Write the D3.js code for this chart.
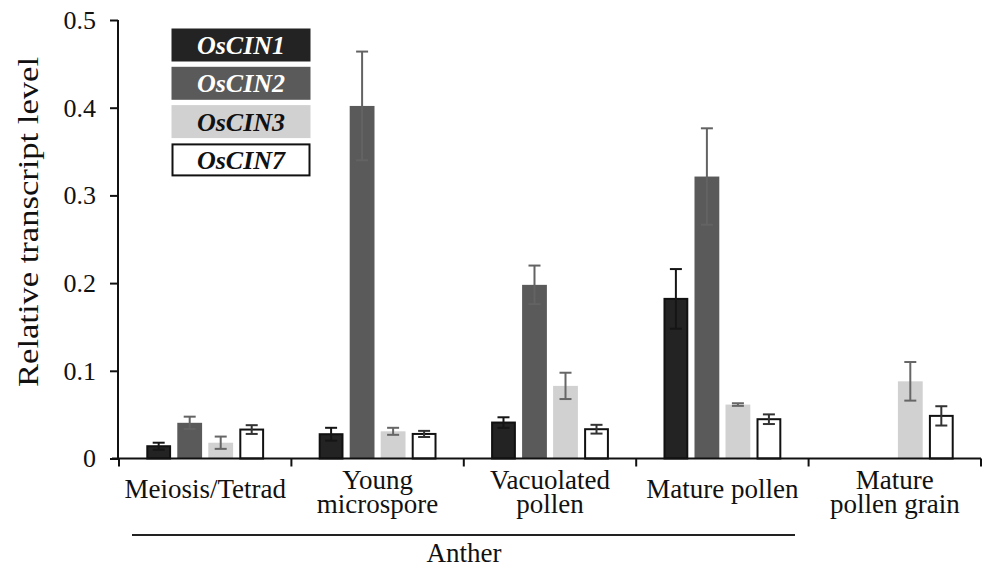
<!DOCTYPE html>
<html><head><meta charset="utf-8">
<script src="https://cdn.jsdelivr.net/npm/d3@7"></script>
<style>
html,body{margin:0;padding:0;background:#fff;}
svg{display:block;}
</style></head>
<body>
<svg id="chart" width="982" height="568"></svg>
<script>
// ---- data ----
const categories = ["Meiosis/Tetrad", "Young microspore", "Vacuolated pollen", "Mature pollen", "Mature pollen grain"];
const categoryLines = [["Meiosis/Tetrad"], ["Young", "microspore"], ["Vacuolated", "pollen"], ["Mature pollen"], ["Mature", "pollen grain"]];
const seriesNames = ["OsCIN1", "OsCIN2", "OsCIN3", "OsCIN7"];
const OsCIN1 = [0.014, 0.0277, 0.041, 0.182, 0];
const OsCIN2 = [0.0407, 0.402, 0.198, 0.3215, 0];
const OsCIN3 = [0.018, 0.031, 0.0828, 0.0615, 0.088];
const OsCIN7 = [0.033, 0.028, 0.0334, 0.0448, 0.0486];
const errCIN1 = [0.004, 0.0073, 0.006, 0.034, 0];
const errCIN2 = [0.007, 0.062, 0.022, 0.055, 0];
const errCIN3 = [0.007, 0.004, 0.015, 0.0015, 0.022];
const errCIN7 = [0.005, 0.0035, 0.005, 0.0055, 0.011];
const yTicks = [0, 0.1, 0.2, 0.3, 0.4, 0.5];
const yTickLabels = ["0", "0.1", "0.2", "0.3", "0.4", "0.5"];
const groupLabel = "Anther";
const yTitle = "Relative transcript level";

const values = [OsCIN1, OsCIN2, OsCIN3, OsCIN7];
const errors = [errCIN1, errCIN2, errCIN3, errCIN7];

// ---- styles ----
const FONT = '"Liberation Serif", "Times New Roman", Times, serif';
const fills = ["#232323", "#5a5a5a", "#d1d1d1", "#ffffff"];
const strokes = ["#111", "none", "none", "#111"];
const errColors = ["#151515", "#636363", "#666", "#333"];
const legendText = ["#ffffff", "#ffffff", "#111111", "#111111"];

const svg = d3.select("#chart");
const x0 = d3.scaleBand().domain(categories).range([119, 981]).padding(0);
const x1 = d3.scaleBand().domain(seriesNames).range([0, x0.bandwidth()]).paddingInner(0.2).paddingOuter(0.88);
const y = d3.scaleLinear().domain([0, 0.5]).range([458.5, 20]);

// bars
const rows = [];
categories.forEach((c, i) => seriesNames.forEach((s, j) => {
  rows.push({c, s, j, v: values[j][i], e: errors[j][i]});
}));
const bars = rows.filter(d => d.v > 0);

svg.append("g").selectAll("rect").data(bars).join("rect")
  .attr("x", d => x0(d.c) + x1(d.s) + (d.j === 0 || d.j === 3 ? 1 : 0))
  .attr("y", d => y(d.v))
  .attr("width", d => x1.bandwidth() - (d.j === 0 || d.j === 3 ? 2 : 0))
  .attr("height", d => y(0) - y(d.v))
  .attr("fill", d => fills[d.j])
  .attr("stroke", d => strokes[d.j])
  .attr("stroke-width", 2);

// error bars
const eg = svg.append("g");
bars.filter(d => d.e > 0).forEach(d => {
  const cx = x0(d.c) + x1(d.s) + x1.bandwidth() / 2;
  const col = errColors[d.j];
  const g = eg.append("g").attr("stroke", col).attr("stroke-width", 2);
  g.append("line").attr("x1", cx).attr("x2", cx).attr("y1", y(d.v + d.e)).attr("y2", y(d.v - d.e));
  g.append("line").attr("x1", cx - 6).attr("x2", cx + 6).attr("y1", y(d.v + d.e)).attr("y2", y(d.v + d.e));
  g.append("line").attr("x1", cx - 6).attr("x2", cx + 6).attr("y1", y(d.v - d.e)).attr("y2", y(d.v - d.e));
});

// y axis
const yAxis = d3.axisLeft(y).tickValues(yTicks).tickFormat((d, i) => yTickLabels[i]).tickSize(8).tickPadding(14);
const ya = svg.append("g").attr("transform", "translate(118,0)").call(yAxis)
  .attr("font-family", FONT).attr("font-size", 26);
ya.select(".domain").attr("stroke", "#111").attr("stroke-width", 2).attr("d", "M0,20V459.5");
ya.selectAll(".tick line").attr("stroke", "#111").attr("stroke-width", 2);
ya.selectAll(".tick text").attr("fill", "#111");

// x axis
const xa = svg.append("g").attr("transform", "translate(0,458.5)");
xa.append("line").attr("x1", 112).attr("x2", 981).attr("y1", 0).attr("y2", 0).attr("stroke", "#111").attr("stroke-width", 2);
const boundaries = categories.map(c => x0(c)).concat([x0(categories[categories.length - 1]) + x0.bandwidth()]);
xa.selectAll("line.tk").data(boundaries).join("line").attr("class", "tk")
  .attr("x1", d => d).attr("x2", d => d).attr("y1", 0).attr("y2", 8)
  .attr("stroke", "#111").attr("stroke-width", 2);

// category labels
categories.forEach((c, i) => {
  const lines = categoryLines[i];
  const cx = x0(c) + x0.bandwidth() / 2;
  const baseY = lines.length === 1 ? 498 : 488.5;
  lines.forEach((ln, k) => {
    svg.append("text").attr("x", cx).attr("y", baseY + k * 24.5)
      .attr("text-anchor", "middle").attr("font-family", FONT).attr("font-size", 27)
      .attr("fill", "#111").text(ln);
  });
});

// Anther bracket
svg.append("line").attr("x1", 132).attr("x2", 795).attr("y1", 535).attr("y2", 535).attr("stroke", "#222").attr("stroke-width", 2);
svg.append("text").attr("x", 464).attr("y", 561.5).attr("text-anchor", "middle")
  .attr("font-family", FONT).attr("font-size", 27).attr("fill", "#111").text(groupLabel);

// y title
svg.append("text").attr("transform", "translate(38,222) rotate(-90)").attr("text-anchor", "middle")
  .attr("font-family", FONT).attr("font-size", 30).attr("fill", "#111")
  .attr("textLength", 330).attr("lengthAdjust", "spacingAndGlyphs").text(yTitle);

// legend
const lg = svg.append("g");
seriesNames.forEach((s, j) => {
  const yy = 28.5 + j * 38.3;
  lg.append("rect").attr("x", j === 3 ? 172.5 : 171.5).attr("y", j === 3 ? yy + 1 : yy)
    .attr("width", j === 3 ? 137 : 139).attr("height", j === 3 ? 31 : 33)
    .attr("fill", fills[j]).attr("stroke", j === 3 ? "#111" : "none").attr("stroke-width", 2);
  lg.append("text").attr("x", 241).attr("y", yy + 25.5).attr("text-anchor", "middle")
    .attr("font-family", FONT).attr("font-size", 26).attr("font-weight", "bold").attr("font-style", "italic")
    .attr("fill", legendText[j]).text(s);
});
</script>
</body></html>
